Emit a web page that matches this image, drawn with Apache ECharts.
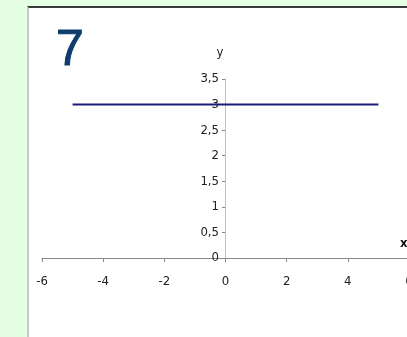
<!DOCTYPE html>
<html>
<head>
    <meta charset="utf-8">
    <script src="https://cdn.jsdelivr.net/npm/echarts@6/dist/echarts.min.js"></script>
    <style type="text/css">
        html, body { width: 100%; height: 100%; margin: 0; background: #e5ffe5; overflow: hidden; }
        #panel { position: absolute; left: 27px; top: 6px; width: 400px; height: 340px; background: #fff;
                 border-left: 2px solid #c8c8c8; border-top: 2px solid #3a3a3a; }
        #chart { position: absolute; left: 0; top: 0; width: 407px; height: 337px; }
    </style>
</head>
<body>
<div id="panel"></div>
<div id="chart"></div>
<script type="text/javascript">
    // y = 3 on x in [-5, 5]
    var lineX = [-5, 5];
    var lineY = [3, 3];
    var xTicks = [-6, 6, 2];      // min, max, step
    var yTicks = [0, 3.5, 0.5];

    var font = '"DejaVu Sans Condensed", "Liberation Sans Narrow", sans-serif';
    var comma = function (v) { return String(v).replace('.', ','); };

    var option = {
        animation: false,
        title: {
            text: '7', left: 51, top: 21,
            textStyle: { fontFamily: 'Liberation Sans, Arial', fontSize: 50, fontWeight: 'normal', color: '#0d3c6d',
                         textBorderColor: '#0d3c6d', textBorderWidth: 1 }
        },
        // grid 0: whole plot; grid 1: starts at x = 0 so its left axis sits on zero
        grid: [
            { left: 42, top: 79, width: 367, height: 179, containLabel: false, outerBoundsMode: 'none' },
            { left: 225, top: 79, width: 184, height: 179, containLabel: false, outerBoundsMode: 'none' }
        ],
        xAxis: [{
            gridIndex: 0, type: 'value', min: xTicks[0], max: xTicks[1], interval: xTicks[2],
            splitLine: { show: false },
            axisLine: { onZero: false, lineStyle: { color: '#888', width: 1 } },
            axisTick: { show: true, length: 4, lineStyle: { color: '#888' } },
            axisLabel: { margin: 17, color: '#222', fontFamily: font, fontSize: 13, showMaxLabel: true }
        }, {
            gridIndex: 1, type: 'value', min: 0, max: xTicks[1], show: false
        }],
        yAxis: [{
            gridIndex: 0, type: 'value', min: yTicks[0], max: yTicks[1], interval: yTicks[2], show: false
        }, {
            gridIndex: 1, type: 'value', min: yTicks[0], max: yTicks[1], interval: yTicks[2],
            position: 'left',
            name: 'y', nameLocation: 'end', nameGap: 20,
            nameTextStyle: { color: '#222', fontFamily: font, fontSize: 13, padding: [0, 10, 0, 0] },
            splitLine: { show: false },
            axisLine: { show: true, onZero: false, lineStyle: { color: '#c0c0c0', width: 1 } },
            axisTick: { show: true, length: 3, lineStyle: { color: '#888' } },
            axisLabel: { margin: 6, color: '#222', fontFamily: font, fontSize: 13, formatter: comma }
        }],
        graphic: [{
            type: 'text', left: 400, top: 237,
            style: { text: 'x', font: 'bold 13px ' + font, fill: '#111' }
        }],
        series: [{
            type: 'line', xAxisIndex: 0, yAxisIndex: 0,
            data: lineX.map(function (x, i) { return [x, lineY[i]]; }),
            showSymbol: false,
            lineStyle: { color: '#1a1a7a', width: 2 }
        }]
    };

    var myChart = echarts.init(document.getElementById('chart'));
    myChart.setOption(option);
</script>
</body>
</html>
